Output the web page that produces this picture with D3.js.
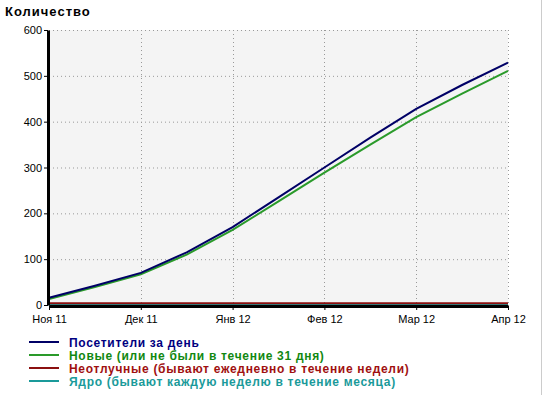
<!DOCTYPE html>
<html><head><meta charset="utf-8">
<script src="https://cdn.jsdelivr.net/npm/d3@7"></script>
<style>body{margin:0;background:#fff;font-family:"Liberation Sans",Arial,sans-serif;}</style>
</head><body><svg id="c" width="548" height="395"></svg>
<script>
const monthLabels = ["Ноя 11","Дек 11","Янв 12","Фев 12","Мар 12","Апр 12"];
const xPos = [0,0.5,1,1.5,2,2.5,3,3.5,4,4.5,5];
const visitors = [16,42,70,115,170,235,300,365,428,480,529];
const newVisitors = [13,39,67,110,164,226,289,350,410,461,511];
const regulars = [4,4,4,4,4,4,4,4,4,4,4];
const core = [0,0,0,0,0,0,0,0,0,0,0];
const yTicks = [0,100,200,300,400,500,600];
const seriesNames = ["Посетители за день","Новые (или не были в течение 31 дня)","Неотлучные (бывают ежедневно в течение недели)","Ядро (бывают каждую неделю в течение месяца)"];
const seriesColors = ["#000066","#2a9a2a","#8b1010","#1a9a9a"];
const legendTextColors = ["#000080","#118811","#a01010","#1a9a9a"];

const svg = d3.select("#c");
const L=49,R=508,T=30,B=305;
const x = d3.scaleLinear().domain([0,5]).range([L,R]);
const y = d3.scaleLinear().domain([0,600]).range([B,T]);

svg.append("rect").attr("x",L).attr("y",T).attr("width",R-L).attr("height",B-T).attr("fill","#f4f4f4");
svg.append("line").attr("x1",541.5).attr("x2",541.5).attr("y1",0).attr("y2",395).attr("stroke","#ccc");

// grid
svg.append("g").selectAll("line").data(yTicks.filter(d=>d>0)).join("line")
  .attr("x1",L).attr("x2",R).attr("y1",d=>y(d)+0.5).attr("y2",d=>y(d)+0.5)
  .attr("stroke","#999").attr("stroke-dasharray","1,3");
svg.append("g").selectAll("line").data(d3.range(1,6)).join("line")
  .attr("y1",T).attr("y2",B).attr("x1",d=>Math.round(x(d))+0.5).attr("x2",d=>Math.round(x(d))+0.5)
  .attr("stroke","#999").attr("stroke-dasharray","1,3");

// title
svg.append("text").attr("x",5).attr("y",16).attr("font-size",13).attr("font-weight","bold")
  .attr("letter-spacing","1px").attr("fill","#000").text("Количество");

const line = d3.line().x((d,i)=>x(xPos[i])).y(d=>y(d));
const data=[visitors,newVisitors,regulars,core];
[3,2,1,0].forEach(k=>{
  svg.append("path").attr("d",line(data[k])).attr("fill","none")
    .attr("stroke",seriesColors[k]).attr("stroke-width",2);
});

// axes
const yAxis = svg.append("g").attr("transform",`translate(${L-1},0)`)
  .call(d3.axisLeft(y).tickValues(yTicks).tickSize(4).tickSizeOuter(0).tickPadding(2));
yAxis.select(".domain").attr("stroke","#000").attr("stroke-width",3);
const xAxis = svg.append("g").attr("transform",`translate(0,${B+1})`)
  .call(d3.axisBottom(x).tickValues(d3.range(0,6)).tickFormat(i=>monthLabels[i]).tickSize(4).tickSizeOuter(0).tickPadding(5));
xAxis.select(".domain").attr("stroke","#000").attr("stroke-width",3);
svg.selectAll(".tick text").attr("font-size",11).attr("font-family","Liberation Sans, Arial, sans-serif").attr("fill","#000");

// legend
const lg = svg.append("g");
seriesNames.forEach((n,i)=>{
  const yy = 342 + i*13;
  lg.append("line").attr("x1",29).attr("x2",59).attr("y1",yy).attr("y2",yy).attr("stroke",seriesColors[i]).attr("stroke-width",2);
  lg.append("text").attr("x",69).attr("y",yy+4.5).attr("font-size",12).attr("font-weight","bold")
    .attr("letter-spacing","0.7px").attr("fill",legendTextColors[i]).text(n);
});
</script></body></html>
